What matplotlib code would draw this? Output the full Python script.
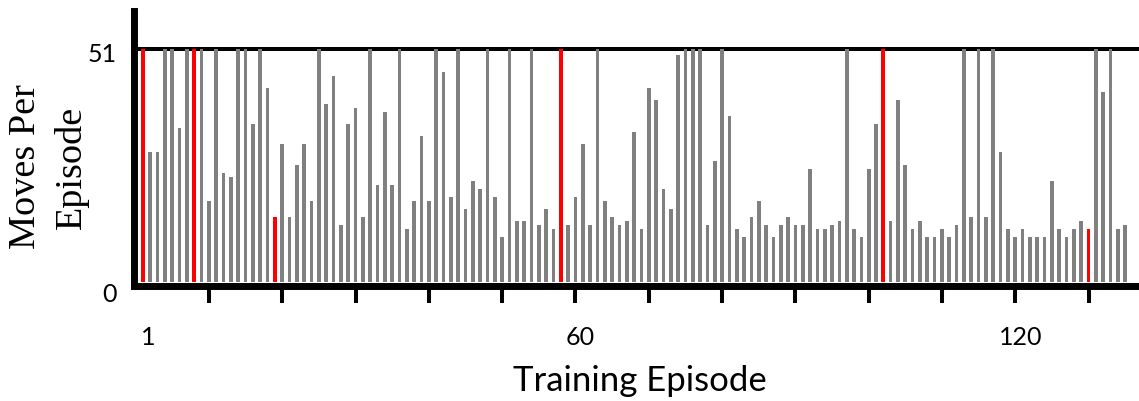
import matplotlib
matplotlib.use("Agg")
import matplotlib.pyplot as plt
from matplotlib.transforms import ScaledTranslation

# Moves taken in each training episode (episode 1 .. 135)
moves = [
    51, 28.5, 28.5, 51, 51, 33.7, 51, 51, 51, 17.8,
    51, 23.9, 23.0, 51, 51, 34.6, 51, 42.5, 14.3, 30.2,
    14.3, 25.6, 30.2, 17.8, 51, 39.0, 45.1, 12.5, 34.6, 38.1,
    14.3, 51, 21.3, 37.2, 21.3, 51, 11.7, 17.8, 32.0, 17.8,
    51, 46.0, 18.7, 51, 16.0, 22.1, 20.4, 51, 18.7, 9.9,
    51, 13.4, 13.4, 51, 12.5, 16.0, 11.7, 51, 12.5, 18.7,
    30.2, 12.5, 51, 17.8, 14.3, 12.5, 13.4, 32.9, 11.7, 42.5,
    39.9, 20.4, 16.0, 49.7, 51, 51, 51, 12.5, 26.5, 51,
    36.4, 11.7, 9.9, 14.3, 17.8, 12.5, 9.9, 12.5, 14.3, 12.5,
    12.5, 24.8, 11.7, 11.7, 12.5, 13.4, 51, 11.7, 9.9, 24.8,
    34.6, 51, 13.4, 39.9, 25.6, 11.7, 13.4, 9.9, 9.9, 11.7,
    9.9, 12.5, 51, 14.3, 51, 14.3, 51, 28.5, 11.7, 9.9,
    11.7, 9.9, 9.9, 9.9, 22.1, 11.7, 9.9, 11.7, 13.4, 11.7,
    51, 41.6, 51, 11.7, 12.5,
]
episodes = list(range(1, len(moves) + 1))

# Episodes drawn in red
highlighted = [1, 8, 19, 58, 102, 130]

move_cap = 51
y_tick_values = [0, 51]
x_tick_marks = list(range(10, 131, 10))
x_label_values = [1, 60, 120]
x_label_text = ["1", "60", "120"]

W, H = 1139, 401
fig = plt.figure(figsize=(W / 100, H / 100), dpi=100)
ax = fig.add_axes([133.5 / W, 115.5 / H, (W - 133.5) / W, (390 - 115.5) / H])

grey = "#808080"
red = "#FF0000"

grey_x = [e for e in episodes if e not in highlighted]
grey_y = [moves[e - 1] for e in grey_x]
ax.bar(grey_x, grey_y, width=0.5, color=grey, zorder=2)

red_x = highlighted[:-1]
red_y = [moves[e - 1] for e in red_x]
ax.bar(red_x, red_y, width=0.55, color=red, zorder=2)
ax.bar([highlighted[-1]], [moves[highlighted[-1] - 1]], width=0.4, color=red, zorder=2)

# horizontal reference line at the move cap
ax.axhline(move_cap, color="black", lw=2.9, zorder=1)

ax.set_xlim(-0.296, 136.88)
ax.set_ylim(-0.766, 59.31)

for side in ("top", "right"):
    ax.spines[side].set_visible(False)
for side in ("left", "bottom"):
    ax.spines[side].set_linewidth(5.0)
    ax.spines[side].set_color("black")
    ax.spines[side].set_zorder(3)

tick_font = dict(family="Lato", size=18)

ax.set_yticks(y_tick_values)
ax.set_yticklabels([str(v) for v in y_tick_values], **tick_font)
ax.tick_params(axis="y", length=0, pad=12)
for lab, dy in zip(ax.get_yticklabels(), (-11, -4)):
    lab.set_transform(lab.get_transform() + ScaledTranslation(0, dy / 100, fig.dpi_scale_trans))

ax.xaxis.remove_overlapping_locs = False
ax.set_xticks(x_tick_marks)
ax.set_xticklabels([])
ax.tick_params(axis="x", which="major", direction="out", length=11.9, width=2.9, color="black")
ax.set_xticks(x_label_values, minor=True)
ax.set_xticklabels(x_label_text, minor=True, **tick_font)
ax.tick_params(axis="x", which="minor", length=0, pad=29)
for lab in ax.xaxis.get_minorticklabels():
    lab.set_transform(lab.get_transform() + ScaledTranslation(5 / 100, 0, fig.dpi_scale_trans))

fig.text(640 / W, 1 - 381 / H, "Training Episode", family="Lato", size=25,
         ha="center", va="center")
fig.text(49 / W, 1 - 167 / H, "Moves Per\nEpisode", family="Liberation Serif", size=27.5,
         rotation=90, ha="center", va="center", linespacing=1.4, multialignment="center")

fig.savefig("out.png", dpi=100)
